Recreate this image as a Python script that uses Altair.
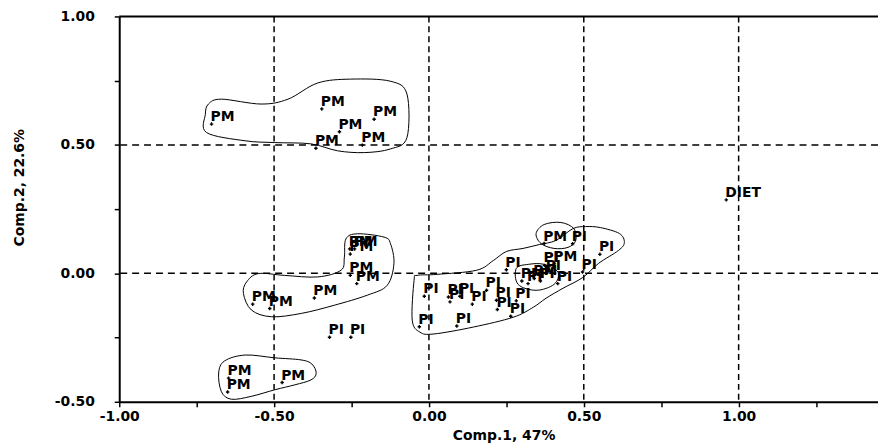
import altair as alt
import pandas as pd

# ---- point data (Comp.1, Comp.2, group label) ----
labels = ["PM", "PM", "PM", "PM", "PM", "PM",
          "PM", "PM", "PM", "PM", "PM", "PM", "PM", "PM",
          "PI", "PI",
          "PM", "PM", "PM",
          "DIET",
          "PI", "PI", "PI", "PI", "PI", "PI", "PI", "PI", "PI", "PI", "PI", "PI", "PI",
          "PM", "PI", "PM", "PI", "PI", "PI", "PI", "PM", "PM", "PI", "PI", "PI"]
comp1 = [-0.702, -0.346, -0.365, -0.289, -0.177, -0.215,
         -0.256, -0.240, -0.254, -0.254, -0.233, -0.569, -0.514, -0.370,
         -0.321, -0.252,
         -0.647, -0.650, -0.474,
         0.960,
         -0.015, -0.031, 0.090, 0.063, 0.068, 0.100, 0.140, 0.186, 0.218, 0.221, 0.264, 0.282, 0.250,
         0.300, 0.320, 0.340, 0.360, 0.380, 0.416, 0.373, 0.405, 0.372, 0.464, 0.552, 0.496]
comp2 = [0.581, 0.640, 0.487, 0.551, 0.600, 0.499,
         0.095, 0.095, 0.075, -0.008, -0.040, -0.120, -0.137, -0.096,
         -0.249, -0.249,
         -0.408, -0.462, -0.425,
         0.286,
         -0.089, -0.208, -0.205, -0.092, -0.111, -0.089, -0.120, -0.066, -0.105, -0.141, -0.167, -0.107, 0.014,
         -0.030, -0.040, -0.020, -0.030, 0.000, -0.040, 0.031, 0.037, 0.116, 0.115, 0.074, 0.005]

# ---- hull outlines (data units) ----
hull_top_x = [-0.722, -0.718, -0.594, -0.498, -0.381, -0.295, -0.209, -0.125, -0.071, -0.071, -0.125, -0.253, -0.359, -0.455, -0.542, -0.670, -0.712]
hull_top_y = [0.619, 0.548, 0.516, 0.509, 0.504, 0.477, 0.470, 0.484, 0.528, 0.698, 0.748, 0.756, 0.741, 0.678, 0.659, 0.678, 0.659]
hull_mid_x = [-0.599, -0.573, -0.509, -0.412, -0.305, -0.199, -0.135, -0.113, -0.124, -0.145, -0.231, -0.268, -0.273, -0.284, -0.359, -0.466, -0.551, -0.589]
hull_mid_y = [-0.079, -0.143, -0.169, -0.156, -0.124, -0.085, -0.047, 0.038, 0.115, 0.141, 0.154, 0.134, 0.063, 0.012, -0.014, -0.008, -0.001, -0.034]
hull_low_x = [-0.679, -0.670, -0.638, -0.574, -0.497, -0.433, -0.381, -0.364, -0.378, -0.413, -0.497, -0.593, -0.660]
hull_low_y = [-0.388, -0.461, -0.490, -0.479, -0.453, -0.434, -0.415, -0.389, -0.353, -0.337, -0.329, -0.318, -0.341]
hull_big_x = [-0.048, -0.054, -0.029, 0.016, 0.144, 0.272, 0.337, 0.378, 0.433, 0.497, 0.548, 0.612, 0.631, 0.615, 0.554, 0.506, 0.465, 0.410, 0.356, 0.304, 0.250, 0.208, 0.154, 0.026, -0.038]
hull_big_y = [-0.027, -0.182, -0.229, -0.236, -0.209, -0.171, -0.132, -0.097, -0.058, -0.016, 0.039, 0.089, 0.120, 0.155, 0.178, 0.182, 0.174, 0.128, 0.112, 0.097, 0.085, 0.050, 0.012, -0.004, -0.008]
hull_pm_x = [0.346, 0.362, 0.404, 0.449, 0.474, 0.468, 0.426, 0.372]
hull_pm_y = [0.155, 0.116, 0.097, 0.101, 0.128, 0.174, 0.198, 0.190]
hull_in_x = [0.282, 0.288, 0.346, 0.404, 0.417, 0.372, 0.321]
hull_in_y = [0.019, -0.043, -0.066, -0.043, 0.004, 0.035, 0.035]

# reference lines and ticks
vlines = [-0.5, 0.0, 0.5, 1.0]
hlines = [0.0, 0.5]
x_ticks = [-1.0, -0.75, -0.5, -0.25, 0.0, 0.25, 0.5, 0.75, 1.0, 1.25]
y_ticks = [-0.5, -0.25, 0.0, 0.25, 0.5, 0.75, 1.0]

pts = pd.DataFrame({"label": labels, "c1": comp1, "c2": comp2})
hull_rows = []
for name, hx, hy in [("top", hull_top_x, hull_top_y), ("mid", hull_mid_x, hull_mid_y),
                     ("low", hull_low_x, hull_low_y), ("big", hull_big_x, hull_big_y),
                     ("pm", hull_pm_x, hull_pm_y), ("in", hull_in_x, hull_in_y)]:
    for k, (a, b) in enumerate(zip(hx, hy)):
        hull_rows.append({"hull": name, "k": k, "c1": a, "c2": b})
hulls = pd.DataFrame(hull_rows)

FONT = "DejaVu Sans"
lab_expr = "(abs(datum.value*2 - round(datum.value*2)) < 0.001) ? replace(format(datum.value, '.2f'), '\u2212', '-') : ''"

x_scale = alt.Scale(domain=[-1.0, 1.45], nice=False, zero=False)
y_scale = alt.Scale(domain=[-0.5, 1.0], nice=False, zero=False)
x_axis = alt.Axis(values=x_ticks, labelExpr=lab_expr, title="Comp.1, 47%", grid=False,
                  tickSize=5, tickColor="black", tickWidth=1.5, domainColor="black", domainWidth=2,
                  labelFont=FONT, labelFontWeight="bold", labelFontSize=14, labelColor="black",
                  labelPadding=3, labelFlush=False, labelOverlap=False,
                  titleFont=FONT, titleFontWeight="bold", titleFontSize=14, titleColor="black",
                  titleX=387, titleY=34, titleBaseline="middle", titleAlign="center")
y_axis = alt.Axis(values=y_ticks, labelExpr=lab_expr, title="Comp.2, 22.6%", grid=False,
                  tickSize=5, tickColor="black", tickWidth=1.5, domainColor="black", domainWidth=2,
                  labelFont=FONT, labelFontWeight="bold", labelFontSize=14, labelColor="black",
                  labelPadding=20, labelFlush=False, labelOverlap=False,
                  titleFont=FONT, titleFontWeight="bold", titleFontSize=14, titleColor="black",
                  titleX=-100, titleY=172, titleAngle=270, titleBaseline="middle", titleAlign="center")

X = lambda f: alt.X(f, type="quantitative", scale=x_scale, axis=x_axis)
Y = lambda f: alt.Y(f, type="quantitative", scale=y_scale, axis=y_axis)

v_rules = alt.Chart(pd.DataFrame({"v": vlines})).mark_rule(
    color="black", strokeWidth=1.5, strokeDash=[6, 4]).encode(x=X("v"))
h_rules = alt.Chart(pd.DataFrame({"h": hlines})).mark_rule(
    color="black", strokeWidth=1.5, strokeDash=[7, 5]).encode(y=Y("h"))
top_rule = alt.Chart(pd.DataFrame({"h": [1.0]})).mark_rule(
    color="black", strokeWidth=2).encode(y=Y("h"))

hull_lines = alt.Chart(hulls).mark_line(
    interpolate="cardinal-closed", color="black", strokeWidth=1).encode(
    x=X("c1"), y=Y("c2"), detail="hull:N", order="k:Q")

dots = alt.Chart(pts).mark_point(shape="cross", filled=True, size=12, color="black", opacity=1).encode(
    x=X("c1"), y=Y("c2"))
texts = alt.Chart(pts).mark_text(align="left", baseline="alphabetic", dx=-1, dy=-3,
                                 font=FONT, fontWeight="bold", fontSize=14, color="black").encode(
    x=X("c1"), y=Y("c2"), text="label:N")

chart = alt.layer(v_rules, h_rules, top_rule, hull_lines, dots, texts).properties(
    width=764, height=388,
    autosize=alt.AutoSizeParams(type="none"),
    padding={"left": 112, "top": 7, "right": 0, "bottom": 40},
    background="white",
).configure_view(stroke=None)

chart.save("out.html", embed_options={"renderer": "svg", "actions": False})
